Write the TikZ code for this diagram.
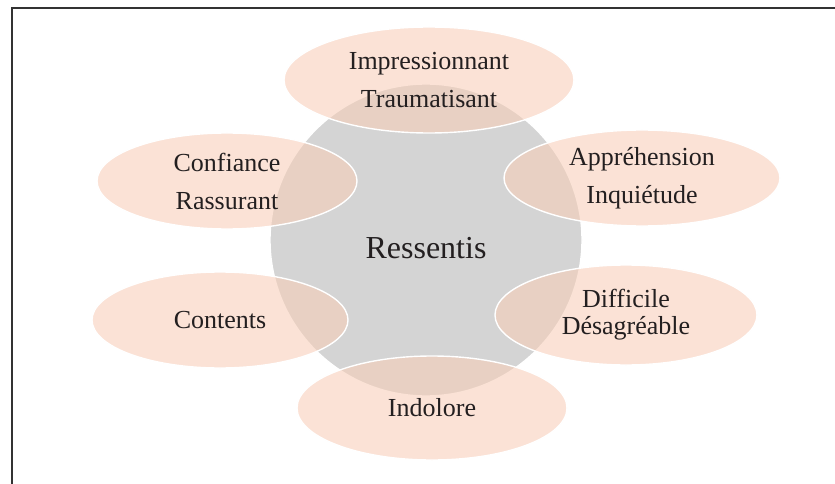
\documentclass[tikz,border=0pt]{standalone}
\usepackage{fontspec}
\setmainfont{Liberation Serif}
\usetikzlibrary{shapes.geometric}
\definecolor{peach}{RGB}{248,205,182}
\definecolor{centregray}{RGB}{212,212,212}
\definecolor{txt}{RGB}{35,31,32}
\definecolor{frame}{RGB}{50,50,50}
\begin{document}
\begin{tikzpicture}[x=1pt,y=-1pt,
  petal/.style={ellipse,inner sep=0pt,fill=peach,fill opacity=0.56,text opacity=1,
    draw=white,line width=1.4pt,text=txt,align=center,
    font=\fontsize{26}{38}\selectfont},
  hub/.style={circle,inner sep=0pt,minimum size=312pt,fill=centregray,draw=white,
    line width=1.4pt,text=txt,font=\fontsize{32}{36}\selectfont}]
\useasboundingbox (0,0) rectangle (835,484);
\fill[white] (0,0) rectangle (835,484);
\coordinate (ftop) at (835,8);
\coordinate (fcorner) at (12,8);
\coordinate (fbot) at (12,484);
\draw[frame,line width=1.1pt] (ftop) -- (fcorner) -- (fbot);
\node[hub] (hub) at (426,240) {};
\node[petal,minimum width=290pt,minimum height=106pt] (p1) at (429,80) {Impressionnant\\Traumatisant};
\node[petal,minimum width=260pt,minimum height=96pt] (p2) at (227,181) {Confiance\\Rassurant};
\node[petal,minimum width=276pt,minimum height=96pt] (p3) at (642,178) {Appréhension\\Inquiétude};
\node[petal,minimum width=256pt,minimum height=96pt] (p4) at (220,320) {Contents};
\node[petal,minimum width=262pt,minimum height=100pt,font=\fontsize{26}{27}\selectfont] (p5) at (626,315) {Difficile\\Désagréable};
\node[petal,minimum width=270pt,minimum height=104pt] (p6) at (432,408) {Indolore};
\node[text=txt,font=\fontsize{32}{36}\selectfont] (hublabel) at (hub.center) [yshift=-8pt] {Ressentis};
\end{tikzpicture}
\end{document}
